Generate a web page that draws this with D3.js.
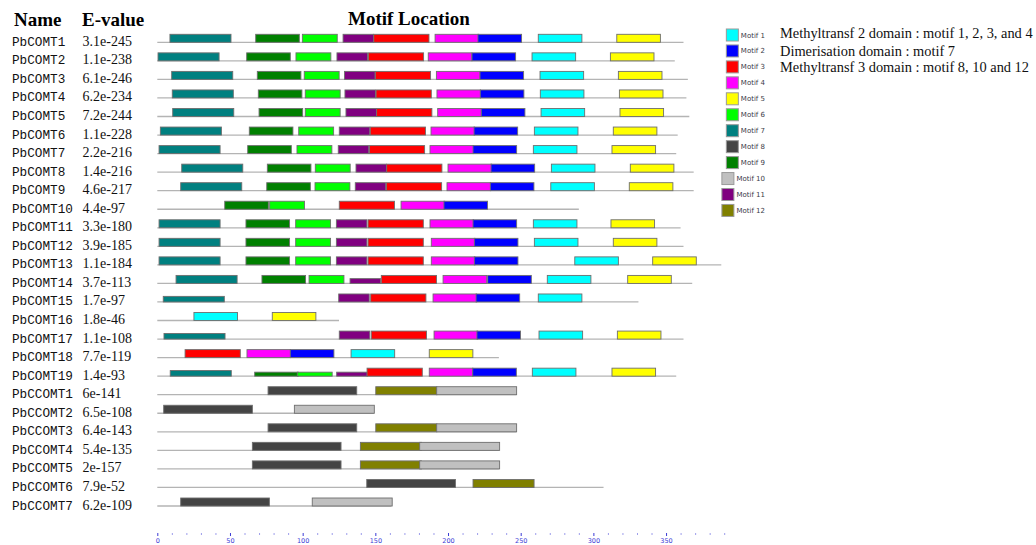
<!DOCTYPE html>
<html>
<head>
<meta charset="utf-8">
<script src="https://cdn.jsdelivr.net/npm/d3@7"></script>
<style>
  body { margin: 0; background: #fff; }
</style>
</head>
<body>
<svg id="motifSVG" width="1036" height="545"></svg>
<script>
const names = ["PbCOMT1","PbCOMT2","PbCOMT3","PbCOMT4","PbCOMT5","PbCOMT6","PbCOMT7","PbCOMT8","PbCOMT9","PbCOMT10",
  "PbCOMT11","PbCOMT12","PbCOMT13","PbCOMT14","PbCOMT15","PbCOMT16","PbCOMT17","PbCOMT18","PbCOMT19",
  "PbCCOMT1","PbCCOMT2","PbCCOMT3","PbCCOMT4","PbCCOMT5","PbCCOMT6","PbCCOMT7"];

const evalues = ["3.1e-245","1.1e-238","6.1e-246","6.2e-234","7.2e-244","1.1e-228","2.2e-216","1.4e-216","4.6e-217","4.4e-97",
  "3.3e-180","3.9e-185","1.1e-184","3.7e-113","1.7e-97","1.8e-46","1.1e-108","7.7e-119","1.4e-93",
  "6e-141","6.5e-108","6.4e-143","5.4e-135","2e-157","7.9e-52","6.2e-109"];

const seqLengths = [362,356,365,364,366,358,357,369,369,290,360,362,388,368,331,125,362,235,357,247,149,247,235,235,307,161];

// motif number -> length (aa), colour
const motifIds = [1,2,3,4,5,6,7,8,9,10,11,12];
const motifLengths = [30,30,38,30,30,24,42,61,30,55,21,42];
const motifColors = ["#00ffff","#0000ff","#ff0000","#ff00ff","#ffff00","#00ff00","#008080","#444444","#008000","#c0c0c0","#800080","#808000"];

// sites per sequence: [motif, start, relative significance]
const motifSites = [
  [[7,8.7,1],[9,67.7,1],[6,99.8,1],[11,127.8,1],[3,148.9,1],[4,191.1,1],[2,220.6,1],[1,262.1,1],[5,316.1,1]],
  [[7,0.5,1],[9,61.5,1],[6,95.4,1],[11,123.6,1],[3,145.2,1],[4,186.4,1],[2,216.5,1],[1,257.8,1],[5,311.7,1]],
  [[7,9.9,1],[9,68.8,1],[6,101.1,1],[11,128.8,1],[3,150,1],[4,192,1],[2,222,1],[1,263.3,1],[5,317.2,1]],
  [[7,10.3,1],[9,69.5,1],[6,101.8,1],[11,129.1,1],[3,150.5,1],[4,192.4,1],[2,222.2,1],[1,263.5,1],[5,317.9,1]],
  [[7,10.6,1],[9,70,1],[6,101.8,1],[11,129.8,1],[3,150.9,1],[4,192.9,1],[2,222.9,1],[1,264,1],[5,318.3,1]],
  [[7,2.1,1],[9,63.3,1],[6,97.3,1],[11,125.2,1],[3,146.5,1],[4,188.3,1],[2,217.9,1],[1,259.4,1],[5,313.7,1]],
  [[7,1.2,1],[9,62.2,1],[6,96.1,1],[11,124.5,1],[3,145.9,1],[4,187.6,1],[2,217.2,1],[1,258.7,1],[5,312.8,1]],
  [[7,16.8,1],[9,75.7,1],[6,108.7,1],[11,136.7,1],[3,157.8,1],[4,200,1],[2,229.6,1],[1,271.1,1],[5,325.4,1]],
  [[7,16.1,1],[9,75.3,1],[6,108.5,1],[11,136.2,1],[3,157.6,1],[4,199.3,1],[2,229.1,1],[1,270.7,1],[5,324.7,1]],
  [[9,46.4,1],[6,77.3,1],[3,125.2,1],[4,167.7,1],[2,197.2,1]],
  [[7,1.2,1],[9,61,1],[6,95.2,1],[11,123.2,1],[3,145,1],[4,187.6,1],[2,217.2,1],[1,258.7,1],[5,312.1,1]],
  [[7,1.2,1],[9,61,1],[6,95.2,1],[11,123.2,1],[3,145,1],[4,188.5,1],[2,218.1,1],[1,259.4,1],[5,313.7,1]],
  [[7,1.2,1],[9,61,1],[6,95.2,1],[11,123.2,1],[3,145,1],[4,188.5,1],[2,218.1,1],[1,287.2,1],[5,340.8,1]],
  [[7,12.9,1],[9,72,1],[6,104.4,1],[11,132.6,0.6],[3,154.1,1],[4,196.6,1],[2,227.3,1],[1,268.3,1],[5,323.6,1]],
  [[7,4.1,0.7],[11,124.8,1],[3,146.8,1],[4,189.7,1],[2,219.3,1],[1,262.1,1]],
  [[1,25.2,1],[5,79.1,1]],
  [[7,4.6,0.7],[11,125.2,1],[3,147.2,1],[4,190.4,1],[2,219.9,1],[1,262.6,1],[5,316.5,1]],
  [[3,19.1,1],[4,61.7,1],[2,91.5,1],[1,133.3,1],[5,187.1,1]],
  [[7,8.9,0.7],[9,67,0.5],[6,96.3,0.5],[11,123.4,0.5],[3,144.3,1],[4,187.1,1],[2,217,1],[1,258,1],[5,312.8,1]],
  [[8,76.2,1],[12,150.3,1],[10,192.2,1]],
  [[8,4.4,1],[10,94.3,1]],
  [[8,76.2,1],[12,150.3,1],[10,192.2,1]],
  [[8,65.4,1],[12,139.7,1],[10,180.5,1]],
  [[8,65.4,1],[12,139.7,1],[10,180.5,1]],
  [[8,144.1,1],[12,217.2,1]],
  [[8,16.1,1],[10,106.6,1]]
];

const axisTicks = d3.range(0, 391, 10);

const domainNotes = [
  "Methyltransf 2 domain : motif 1, 2, 3, and 4",
  "Dimerisation domain : motif 7",
  "Methyltransf 3 domain : motif 8, 10 and 12"
];

const svg = d3.select("#motifSVG");

const x = d3.scaleLinear().domain([0, 390]).range([157.3, 724.2]);
const y = d3.scalePoint().domain(names).range([42.3, 506]);
const colorOf = d3.scaleOrdinal().domain(motifIds).range(motifColors);
const lenOf = d3.scaleOrdinal().domain(motifIds).range(motifLengths);
const boxH = 8;

// headers
svg.append("text").attr("x", 14).attr("y", 26).text("Name")
  .style("font-family", "Liberation Serif").style("font-weight", "bold").style("font-size", "19px");
svg.append("text").attr("x", 82).attr("y", 26).text("E-value")
  .style("font-family", "Liberation Serif").style("font-weight", "bold").style("font-size", "19px");
svg.append("text").attr("x", 348).attr("y", 25).text("Motif Location")
  .style("font-family", "Liberation Serif").style("font-weight", "bold").style("font-size", "19px");

const rows = svg.selectAll("g.row")
  .data(names)
  .enter()
  .append("g")
  .attr("class", "row")
  .attr("transform", d => `translate(0,${y(d)})`);

rows.append("text")
  .attr("x", 12)
  .attr("y", 3.5)
  .text(d => d)
  .style("font-family", "Liberation Mono")
  .style("font-size", "12.7px")
  .style("fill", "#111");

rows.append("text")
  .attr("x", 82.5)
  .attr("y", 3.5)
  .text((d, i) => evalues[i])
  .style("font-family", "Liberation Serif")
  .style("font-size", "14px")
  .style("fill", "#111");

rows.append("line")
  .attr("x1", x(0))
  .attr("x2", (d, i) => x(seqLengths[i]))
  .attr("y1", 0)
  .attr("y2", 0)
  .attr("stroke", "#b4b4b4")
  .attr("stroke-width", 1.3);

rows.selectAll("rect")
  .data((d, i) => motifSites[i])
  .enter()
  .append("rect")
  .attr("x", d => x(d[1]))
  .attr("width", d => x(d[1] + lenOf(d[0])) - x(d[1]))
  .attr("y", d => -boxH * d[2])
  .attr("height", d => boxH * d[2])
  .attr("fill", d => colorOf(d[0]))
  .attr("stroke", "#6e6e6e")
  .attr("stroke-width", 0.9);

// position axis
const axisG = svg.append("g")
  .attr("transform", "translate(0,533)")
  .call(d3.axisBottom(x)
    .tickValues(axisTicks)
    .tickSize(0)
    .tickFormat(d => d % 50 === 0 ? d : ""));

axisG.select(".domain").remove();
axisG.selectAll(".tick line")
  .attr("y1", d => d % 50 === 0 ? 0 : 0.5)
  .attr("y2", d => d % 50 === 0 ? 3 : 1.5)
  .attr("stroke", "#3b3bd6")
  .attr("stroke-width", 1);
axisG.selectAll(".tick text")
  .attr("y", 5)
  .style("font-family", "DejaVu Sans")
  .style("font-size", "6.5px")
  .style("fill", "#3b3bd6");

// legend
const legend = svg.selectAll("g.legend")
  .data(motifIds)
  .enter()
  .append("g")
  .attr("class", "legend")
  .attr("transform", (d, i) => `translate(0,${35 + i * 15.95})`);

legend.append("text")
  .attr("x", 765)
  .attr("y", 2.5)
  .attr("text-anchor", "end")
  .text(d => "Motif " + d)
  .style("font-family", "DejaVu Sans")
  .style("font-size", "7px")
  .style("fill", "#3a3a48");

legend.each(function(d) {
  const g = d3.select(this);
  const w = g.select("text").node().getComputedTextLength();
  g.insert("rect", "text")
    .attr("x", 765 - w - 14.5)
    .attr("y", -6)
    .attr("width", 12)
    .attr("height", 12)
    .attr("fill", colorOf(d))
    .attr("stroke", "#9a9a9a")
    .attr("stroke-width", 1);
});

svg.selectAll("text.note")
  .data(domainNotes)
  .enter()
  .append("text")
  .attr("class", "note")
  .attr("x", 780)
  .attr("y", (d, i) => [38, 56, 71.5][i])
  .text(d => d)
  .style("font-family", "Liberation Serif")
  .style("font-size", "14.4px")
  .style("fill", "#111");
</script>
</body>
</html>
